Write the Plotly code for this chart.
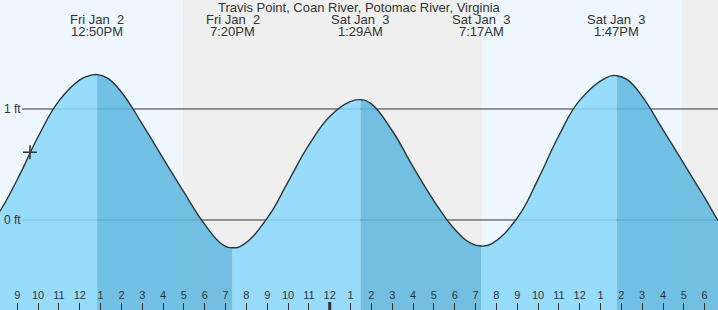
import plotly.graph_objects as go

# ---- data (hours since Fri Jan 2 00:00, heights in ft) ----
tide_t = [7, 8, 9, 10, 11, 12, 12.333, 13.333, 14, 15, 16, 17, 18, 18.833, 19.833,
          21, 22, 23, 24, 24.983, 25.983, 27, 28, 29, 30, 30.783, 31.783, 33, 34,
          35, 36, 37.283, 38.283, 39, 40, 41, 42, 43, 44]
tide_ft = [-0.164, 0.035, 0.365, 0.750, 1.073, 1.262, 1.293, 1.278, 1.151, 0.864,
           0.555, 0.250, -0.040, -0.219, -0.224, 0.017, 0.344, 0.676, 0.933, 1.067,
           1.048, 0.804, 0.479, 0.173, -0.084, -0.210, -0.213, 0.018, 0.366, 0.759,
           1.078, 1.283, 1.265, 1.114, 0.812, 0.507, 0.201, -0.095, -0.249]

extreme_t = [12.833, 19.333, 25.483, 31.283, 37.783]
extreme_ft = [1.31, -0.25, 1.084, -0.235, 1.30]
extreme_day = ["Fri Jan\u00a0 2", "Fri Jan\u00a0 2", "Sat Jan\u00a0 3", "Sat Jan\u00a0 3", "Sat Jan\u00a0 3"]
extreme_time = ["12:50PM", "7:20PM", "1:29AM", "7:17AM", "1:47PM"]

sun_t = [16.95, 31.31, 40.91]          # sunset Fri, sunrise Sat, sunset Sat
now_t = [9.61]
now_ft = [0.61]

tick_t = list(range(9, 43))
tick_text = [str((h - 1) % 12 + 1) for h in tick_t]
level_lines = [1, 0]
level_labels = ["1 ft", "0 ft"]
title = "Travis Point, Coan River, Potomac River, Virginia"

# ---- build ----
X0, X1 = 8.1695, 42.64
Y0, Y1 = -0.811, 1.982
FONT = "Liberation Sans, Arial, sans-serif"
INK = "#333333"
LIGHT = "rgba(136,215,252,0.85)"
DARK = "rgba(92,182,223,0.85)"
SMOOTH = 1.3

pts = sorted(list(zip(tide_t, tide_ft)) + list(zip(extreme_t, extreme_ft)))
ts = [p[0] for p in pts]
fs = [p[1] for p in pts]

bounds = [ts[0]] + extreme_t + [ts[-1]]
fig = go.Figure()
for i in range(len(bounds) - 1):
    a, b = bounds[i], bounds[i + 1]
    seg = [(t, f) for t, f in pts if a <= t <= b]
    rising = seg[-1][1] > seg[0][1]
    fig.add_trace(go.Scatter(x=[a, b], y=[Y0 - 1, Y0 - 1], mode="lines",
                             line=dict(width=0), hoverinfo="skip", showlegend=False))
    fig.add_trace(go.Scatter(x=[s[0] for s in seg], y=[s[1] for s in seg], mode="lines",
                             line=dict(width=0, shape="spline", smoothing=SMOOTH),
                             fill="tonexty", fillcolor=LIGHT if rising else DARK,
                             hoverinfo="skip", showlegend=False))

fig.add_trace(go.Scatter(x=ts, y=fs, mode="lines",
                         line=dict(color=INK, width=1.4, shape="spline", smoothing=SMOOTH),
                         hoverinfo="skip", showlegend=False))
fig.add_trace(go.Scatter(x=now_t, y=now_ft, mode="markers",
                         marker=dict(symbol="cross-thin", size=10,
                                     line=dict(color=INK, width=1.5)),
                         hoverinfo="skip", showlegend=False))

shapes = []
edges = [X0] + sun_t + [X1]
for i in range(len(edges) - 1):
    shapes.append(dict(type="rect", xref="x", yref="paper", x0=edges[i], x1=edges[i + 1],
                       y0=0, y1=1, layer="below", line=dict(width=0),
                       fillcolor="#EEF7FE" if i % 2 == 0 else "#EFEFEF"))
for lv in level_lines:
    shapes.append(dict(type="line", xref="paper", yref="y", x0=22 / 718, x1=1,
                       y0=lv, y1=lv, layer="below", line=dict(color=INK, width=1)))
shapes.append(dict(type="line", xref="x", yref="paper", x0=24, x1=24, y0=0, y1=8 / 310,
                   layer="above", line=dict(color=INK, width=3)))

ann = [dict(text=title, x=0.5, y=1 - 7.5 / 310, xref="paper", yref="paper",
            showarrow=False, xanchor="center", yanchor="middle",
            font=dict(size=13, color=INK, family=FONT))]
for t, d, tm in zip(extreme_t, extreme_day, extreme_time):
    ann.append(dict(text=d, x=t, y=1 - 19.5 / 310, xref="x", yref="paper", showarrow=False,
                    xanchor="center", yanchor="middle", font=dict(size=13, color=INK, family=FONT)))
    ann.append(dict(text=tm, x=t, y=1 - 31.7 / 310, xref="x", yref="paper", showarrow=False,
                    xanchor="center", yanchor="middle", font=dict(size=13, color=INK, family=FONT)))
for lv, lb in zip(level_lines, level_labels):
    ann.append(dict(text=lb, x=2 / 718, y=lv, xref="paper", yref="y", showarrow=False,
                    xanchor="left", yanchor="middle", font=dict(size=12, color=INK, family=FONT)))

fig.update_layout(
    width=718, height=310, margin=dict(l=0, r=0, t=0, b=0),
    paper_bgcolor="white", plot_bgcolor="white",
    shapes=shapes, annotations=ann,
    xaxis=dict(range=[X0, X1], showgrid=False, zeroline=False, showline=False,
               tickvals=tick_t, ticktext=tick_text, ticks="outside", ticklen=7,
               tickwidth=1, tickcolor=INK, side="top", anchor="free", position=0,
               tickfont=dict(size=11, color=INK, family=FONT), fixedrange=True),
    yaxis=dict(range=[Y0, Y1], visible=False, fixedrange=True),
    showlegend=False,
)
fig.write_html("out.html")
